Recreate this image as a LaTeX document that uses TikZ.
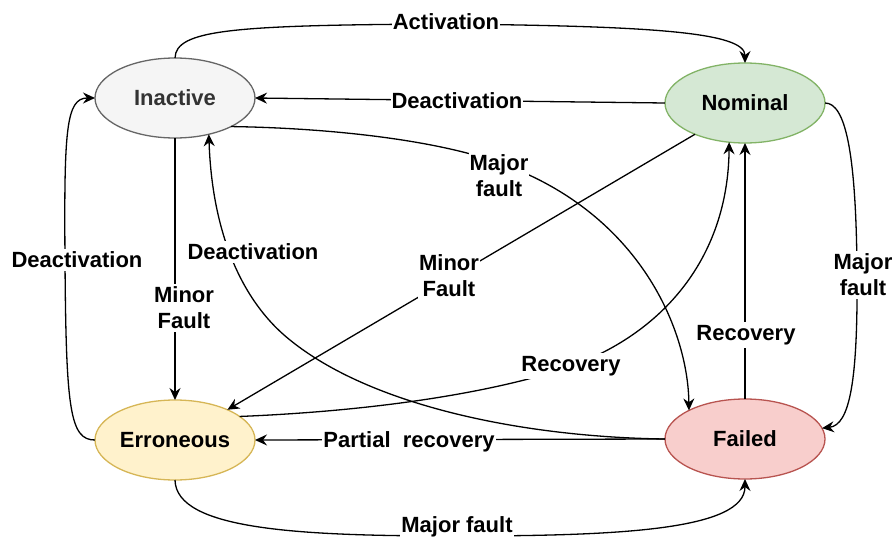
\documentclass[tikz,border=0pt]{standalone}
\usepackage{fontspec}
\setmainfont{Liberation Sans}
\usetikzlibrary{shapes.geometric,arrows.meta}
\definecolor{inaF}{HTML}{F5F5F5}
\definecolor{inaD}{HTML}{666666}
\definecolor{inaT}{HTML}{333333}
\definecolor{nomF}{HTML}{D5E8D4}
\definecolor{nomD}{HTML}{82B366}
\definecolor{errF}{HTML}{FFF2CC}
\definecolor{errD}{HTML}{D6B656}
\definecolor{faiF}{HTML}{F8CECC}
\definecolor{faiD}{HTML}{B85450}
\begin{document}
\begin{tikzpicture}[x=1pt,y=-1pt,
  stnode/.style={ellipse, draw, line width=1.3pt, minimum width=160pt, minimum height=80pt, inner sep=0pt, outer sep=0pt, font=\fontsize{22}{26}\selectfont\bfseries},
  conn/.style={line width=1.3pt, -{Stealth[length=12pt,width=11pt,inset=4pt]}},
  lbl/.style={fill=white, inner xsep=1pt, inner ysep=3pt, align=center, font=\fontsize{22}{26}\selectfont\bfseries}]
\useasboundingbox (0,0) rectangle (895,538);

\node[stnode, fill=inaF, draw=inaD, text=inaT] (ina) at (175,98) {Inactive};
\node[stnode, fill=nomF, draw=nomD] (nom) at (745,103) {Nominal};
\node[stnode, fill=errF, draw=errD] (err) at (175,440) {Erroneous};
\node[stnode, fill=faiF, draw=faiD] (fai) at (745,439) {Failed};

\coordinate (actM) at (446,24);
\draw[conn] (ina.north) .. controls (176,30) and (230,25) .. (actM) .. controls (650,26) and (745,32) .. (nom.north);
\draw[conn] (nom.west) -- (ina.east);
\draw[conn] (ina.-27) .. controls (330,128) and (440,140) .. (505,165) .. controls (640,215) and (688,330) .. (fai.153);
\draw[conn] (nom.-148) -- (err.30);
\draw[conn] (ina.south) -- (err.north);
\draw[conn] (err.west) .. controls (70,440) and (66,410) .. (65,260) .. controls (64,130) and (66,98) .. (ina.west);
\draw[conn] (fai.west) .. controls (520,437) and (370,405) .. (290,340) .. controls (240,300) and (212,230) .. (ina.-47);
\draw[conn] (err.20) .. controls (350,412) and (470,398) .. (560,370) .. controls (660,338) and (728,260) .. (nom.-112);
\draw[conn] (fai.north) -- (nom.south);
\draw[conn] (nom.east) .. controls (845,103) and (856,150) .. (857,270) .. controls (858,380) and (850,425) .. (fai.8);
\draw[conn] (fai.west) -- (err.east);
\draw[conn] (err.south) .. controls (176,530) and (300,536) .. (457,536) .. controls (620,536) and (745,530) .. (fai.south);

\node[lbl] (lAct) at (446,22) {Activation};
\node[lbl] (lDeac1) at (457,101) {Deactivation};
\node[lbl] (lMaj1) at (499,176) {Major\\fault};
\node[lbl] (lMin1) at (449,276) {Minor\\Fault};
\node[lbl] (lMin2) at (184,308) {Minor\\Fault};
\node[lbl] (lDeac2) at (77,260) {Deactivation};
\node[lbl] (lDeac3) at (253,252) {Deactivation};
\node[lbl] (lRec1) at (571,366) {Recovery};
\node[lbl] (lRec2) at (746,335) {Recovery};
\node[lbl] (lMaj2) at (863,275) {Major\\fault};
\node[lbl] (lPart) at (409,442) {Partial~~recovery};
\node[lbl] (lMaj3) at (457,527) {Major fault};
\end{tikzpicture}
\end{document}
